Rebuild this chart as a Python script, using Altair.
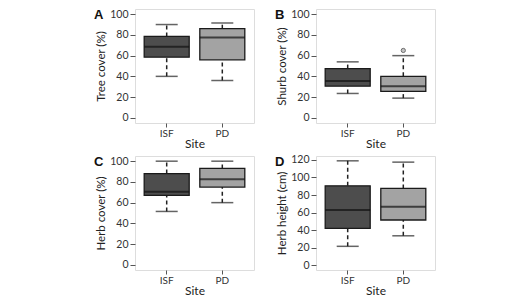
import altair as alt
import pandas as pd

sites = ["ISF", "PD"]

# Panel A: Tree cover (%)
tree_min = [40, 36]
tree_q1 = [58.5, 56]
tree_med = [68.5, 77.5]
tree_q3 = [78.5, 86]
tree_max = [90, 91.5]

# Panel B: Shurb cover (%)
shrub_min = [23.5, 19]
shrub_q1 = [30.5, 25.5]
shrub_med = [35.5, 30.5]
shrub_q3 = [47.5, 40]
shrub_max = [54, 60]
shrub_out_site = ["PD"]
shrub_out_val = [65]

# Panel C: Herb cover (%)
herb_min = [51.5, 60]
herb_q1 = [67, 75]
herb_med = [70.5, 82.5]
herb_q3 = [88, 93]
herb_max = [100, 100]

# Panel D: Herb height (cm)
hh_min = [21.5, 33.5]
hh_q1 = [42, 51.5]
hh_med = [63, 66.5]
hh_q3 = [90.5, 87.5]
hh_max = [119, 117.5]

FONT = "Lato"
W, H = 119, 114
BOX = 45
CAP = 22


def panel(letter, ytitle, mins, q1s, meds, q3s, maxs, ydomain, yticks,
          out_sites=None, out_vals=None):
    df = pd.DataFrame({"site": sites, "lo": mins, "q1": q1s, "med": meds,
                       "q3": q3s, "hi": maxs})
    xenc = alt.X("site:N",
                 scale=alt.Scale(domain=sites, paddingInner=0, paddingOuter=0.07),
                 axis=alt.Axis(title="Site", labelAngle=0, tickSize=4,
                               labelPadding=1, titlePadding=0, domain=False,
                               tickColor="#555", titleFontWeight="normal",
                               labelFontSize=10, titleFontSize=12,
                               labelFont=FONT, titleFont=FONT,
                               labelColor="#333", titleColor="#222"))
    yscale = alt.Scale(domain=ydomain, nice=False, zero=False)
    yaxis = alt.Axis(title=ytitle, values=yticks, grid=False, tickSize=5,
                     labelPadding=2, titlePadding=3, domain=False,
                     tickColor="#555", labelOverlap=False,
                     titleFontWeight="normal", labelFontSize=10.5,
                     titleFontSize=11.5, labelFont=FONT, titleFont=FONT,
                     labelColor="#333", titleColor="#222")

    def Y(field):
        return alt.Y(field, scale=yscale, axis=yaxis)

    base = alt.Chart(df).encode(x=xenc)
    w_low = base.mark_rule(strokeDash=[4, 3], color="#222", strokeWidth=1.5).encode(
        y=Y("lo:Q"), y2="q1:Q")
    w_high = base.mark_rule(strokeDash=[4, 3], color="#222", strokeWidth=1.5).encode(
        y=Y("q3:Q"), y2="hi:Q")
    cap_lo = base.mark_tick(size=CAP, thickness=1.5, color="#222").encode(y=Y("lo:Q"))
    cap_hi = base.mark_tick(size=CAP, thickness=1.5, color="#222").encode(y=Y("hi:Q"))
    box = base.mark_bar(size=BOX, stroke="#1a1a1a", strokeWidth=1.3).encode(
        y=Y("q1:Q"), y2="q3:Q",
        color=alt.Color("site:N", scale=alt.Scale(domain=sites,
                                                  range=["#4d4d4d", "#a3a3a3"]),
                        legend=None))
    med = base.mark_tick(size=BOX, thickness=2, color="#111").encode(y=Y("med:Q"))
    layers = [w_low, w_high, cap_lo, cap_hi, box, med]
    if out_sites:
        odf = pd.DataFrame({"site": out_sites, "v": out_vals})
        layers.append(alt.Chart(odf).mark_point(shape="circle", size=18, filled=True,
                                                 fill="#aaaaaa", stroke="#333",
                                                 strokeWidth=1).encode(
            x=xenc, y=Y("v:Q")))
    lab = alt.Chart(pd.DataFrame({"t": [letter]})).mark_text(
        fontWeight="bold", fontSize=13, align="left", baseline="alphabetic",
        font="Liberation Sans", color="#111").encode(
        text="t:N", x=alt.value(-41), y=alt.value(10))
    layers.append(lab)
    return alt.layer(*layers).properties(width=W, height=H)


a = panel("A", "Tree cover (%)", tree_min, tree_q1, tree_med, tree_q3, tree_max,
          [-5, 105], [0, 20, 40, 60, 80, 100])
b = panel("B", "Shurb cover (%)", shrub_min, shrub_q1, shrub_med, shrub_q3, shrub_max,
          [-5, 105], [0, 20, 40, 60, 80, 100], shrub_out_site, shrub_out_val)
c = panel("C", "Herb cover (%)", herb_min, herb_q1, herb_med, herb_q3, herb_max,
          [-5, 105], [0, 20, 40, 60, 80, 100])
d = panel("D", "Herb height (cm)", hh_min, hh_q1, hh_med, hh_q3, hh_max,
          [-5.5, 124.5], [0, 20, 40, 60, 80, 100, 120])

chart = alt.vconcat(
    alt.hconcat(a, b, spacing=19),
    alt.hconcat(c, d, spacing=19),
    spacing=4,
).properties(
    padding={"left": 85, "top": 0, "right": 5, "bottom": 0}
).configure_view(
    stroke="#8c8c8c", strokeWidth=1.2
).configure(background="white")

chart.save("out.html", embed_options={"renderer": "svg", "actions": False})
